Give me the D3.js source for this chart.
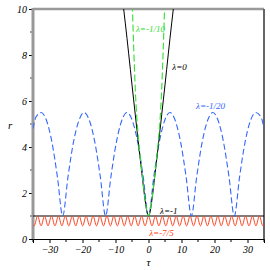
<!DOCTYPE html>
<meta charset='utf-8'>
<body style='margin:0;background:#fff'>
<script src='https://d3js.org/d3.v7.min.js'></script>
<script>
  // tick values
  const xTicks = [-30, -20, -10, 0, 10, 20, 30];
  const xMinor = [-35, -25, -15, -5, 5, 15, 25, 35];
  const yTicks = [0, 2, 4, 6, 8, 10];
  const yMinor = [1, 3, 5, 7, 9];

  // lambda = 0, solid black
  const zeroTau = [-7.6, -7, -6, -5, -4, -3, -2, -1, -0.5, 0, 0.5, 1, 2, 3, 4, 5, 6, 7, 7.6];
  const zeroR   = [10.1, 9.35, 8.05, 6.7, 5.4, 4.1, 2.85, 1.66, 1.2, 1, 1.2, 1.66, 2.85, 4.1, 5.4, 6.7, 8.05, 9.35, 10.1];

  // lambda = -1/10, green dashed
  const tenthTau = [-4.9, -4.6, -4.3, -4, -3.5, -3, -2, -1, 0, 1, 2, 3, 3.5, 4, 4.3, 4.6, 4.9];
  const tenthR   = [10.2, 8.8, 7.6, 6.5, 5.2, 4.3, 2.9, 1.7, 1, 1.7, 2.9, 4.3, 5.2, 6.5, 7.6, 8.8, 10.2];

  // lambda = -1/20, blue dashed
  const twentiethTau = [-35, -34.1, -32.5, -30.9, -29.25, -27.6, -26,
    -24.4, -22.75, -21.1, -19.5, -17.9, -16.25, -14.6, -13,
    -11.4, -9.75, -8.1, -6.5, -4.9, -3.25, -1.6, 0,
    1.6, 3.25, 4.9, 6.5, 8.1, 9.75, 11.4, 13,
    14.6, 16.25, 17.9, 19.5, 21.1, 22.75, 24.4, 26,
    27.6, 29.25, 30.9, 32.5, 34.1, 35];
  const twentiethR = [4.8, 5.3, 5.5, 5.15, 4.2, 2.7, 1,
    2.7, 4.2, 5.15, 5.5, 5.15, 4.2, 2.7, 1,
    2.7, 4.2, 5.15, 5.5, 5.15, 4.2, 2.7, 1,
    2.7, 4.2, 5.15, 5.5, 5.15, 4.2, 2.7, 1,
    2.7, 4.2, 5.15, 5.5, 5.15, 4.2, 2.7, 1,
    2.7, 4.2, 5.15, 5.5, 5.3, 4.8];

  // lambda = -1, flat at r = 1
  const oneTau = [-35, 35];
  const oneR   = [1, 1];

  // lambda = -7/5, red oscillation under r = 1 (peaks and troughs)
  const sevenTau = [-35, -34.65, -33.6, -32.55, -31.5, -30.45, -29.4, -28.35, -27.3, -26.25, -25.2,
    -24.15, -23.1, -22.05, -21, -19.95, -18.9, -17.85, -16.8, -15.75, -14.7, -13.65, -12.6,
    -11.55, -10.5, -9.45, -8.4, -7.35, -6.3, -5.25, -4.2, -3.15, -2.1, -1.05, 0,
    1.05, 2.1, 3.15, 4.2, 5.25, 6.3, 7.35, 8.4, 9.45, 10.5, 11.55, 12.6, 13.65, 14.7,
    15.75, 16.8, 17.85, 18.9, 19.95, 21, 22.05, 23.1, 24.15, 25.2, 26.25, 27.3, 28.35,
    29.4, 30.45, 31.5, 32.55, 33.6, 34.65, 35];
  const sevenR = [0.6, 0.57, 1, 0.57, 1, 0.57, 1, 0.57, 1, 0.57, 1,
    0.57, 1, 0.57, 1, 0.57, 1, 0.57, 1, 0.57, 1, 0.57, 1,
    0.57, 1, 0.57, 1, 0.57, 1, 0.57, 1, 0.57, 1, 0.57, 1,
    0.57, 1, 0.57, 1, 0.57, 1, 0.57, 1, 0.57, 1, 0.57, 1, 0.57, 1,
    0.57, 1, 0.57, 1, 0.57, 1, 0.57, 1, 0.57, 1, 0.57, 1, 0.57,
    1, 0.57, 1, 0.57, 1, 0.57, 0.6];

  const margin = { top: 9, right: 6, bottom: 31, left: 33 };
  const width = 270 - margin.left - margin.right;
  const height = 270 - margin.top - margin.bottom;

  const x = d3.scaleLinear().domain([-35, 35]).range([0, width]);
  const y = d3.scaleLinear().domain([0, 10]).range([height, 0]);

  const svg = d3.select('body').append('svg')
    .attr('width', 270)
    .attr('height', 270)
    .style('display', 'block')
    .append('g')
      .attr('transform', `translate(${margin.left}, ${margin.top})`);

  svg.append('defs').append('clipPath')
    .attr('id', 'clip')
    .append('rect')
      .attr('width', width)
      .attr('height', height);

  const font = '"Liberation Serif", "DejaVu Serif", serif';

  // bottom axis
  const xAxis = svg.append('g')
    .attr('transform', `translate(0, ${height})`)
    .attr('font-family', font)
    .call(d3.axisBottom(x).tickValues(xTicks).tickSize(4).tickFormat(d3.format('d')));
  xAxis.append('g').selectAll('line')
    .data(xMinor)
    .join('line')
      .attr('x1', d => x(d)).attr('x2', d => x(d))
      .attr('y1', 0).attr('y2', 3)
      .attr('stroke', '#000');
  xAxis.selectAll('text')
    .attr('y', 6)
    .attr('dy', '0.75em')
    .style('font', `italic 10px ${font}`)
    .attr('fill', '#000');

  // left axis
  const yAxis = svg.append('g')
    .attr('font-family', font)
    .call(d3.axisLeft(y).tickValues(yTicks).tickSize(4).tickFormat(d3.format('d')));
  yAxis.append('g').selectAll('line')
    .data(yMinor)
    .join('line')
      .attr('x1', -3).attr('x2', 0)
      .attr('y1', d => y(d)).attr('y2', d => y(d))
      .attr('stroke', '#444');
  yAxis.selectAll('text')
    .attr('x', -6)
    .style('font', `italic 10px ${font}`)
    .attr('fill', '#000');
  yAxis.select('.domain').remove();

  // frame
  svg.append('line')
    .attr('x1', 0).attr('x2', width).attr('y1', 0).attr('y2', 0)
    .attr('stroke', '#999').attr('stroke-width', 2.5);
  svg.append('line')
    .attr('x1', width).attr('x2', width).attr('y1', 0).attr('y2', height)
    .attr('stroke', '#666').attr('stroke-width', 2);
  svg.append('line')
    .attr('x1', 0).attr('x2', 0).attr('y1', -1).attr('y2', height)
    .attr('stroke', '#999').attr('stroke-width', 3);

  const zip = (ts, rs) => ts.map((t, i) => ({ t: t, r: rs[i] }));
  const plot = svg.append('g').attr('clip-path', 'url(#clip)');

  const series = [
    { data: zip(oneTau, oneR), color: '#000', dash: null, width: 1.1, curve: d3.curveLinear },
    { data: zip(sevenTau, sevenR), color: '#ff4422', dash: null, width: 1, curve: d3.curveMonotoneX },
    { data: zip(twentiethTau, twentiethR), color: '#3366ff', dash: '6,3', width: 1.1, curve: d3.curveMonotoneX },
    { data: zip(zeroTau, zeroR), color: '#000', dash: null, width: 1, curve: d3.curveMonotoneX },
    { data: zip(tenthTau, tenthR), color: '#33dd33', dash: '7,3', width: 1.1, curve: d3.curveMonotoneX }
  ];

  series.forEach(s => {
    plot.append('path')
      .datum(s.data)
      .attr('fill', 'none')
      .attr('stroke', s.color)
      .attr('stroke-width', s.width)
      .attr('stroke-dasharray', s.dash)
      .attr('d', d3.line().x(d => x(d.t)).y(d => y(d.r)).curve(s.curve));
  });

  // curve labels
  const labels = [
    { text: 'λ=-1/10', t: -3.8, r: 9.0, color: '#33dd33' },
    { text: 'λ=0', t: 7.2, r: 7.35, color: '#000' },
    { text: 'λ=-1/20', t: 14.4, r: 5.65, color: '#3366ff' },
    { text: 'λ=-1', t: 3.5, r: 1.1, color: '#000' },
    { text: 'λ=-7/5', t: 0.2, r: 0.12, color: '#ff4422' }
  ];
  svg.append('g').selectAll('text')
    .data(labels)
    .join('text')
      .attr('x', d => x(d.t))
      .attr('y', d => y(d.r))
      .attr('fill', d => d.color)
      .style('font', `italic 9px ${font}`)
      .text(d => d.text);

  // axis titles
  svg.append('text')
    .attr('x', x(0))
    .attr('y', height + 27)
    .attr('text-anchor', 'middle')
    .style('font', `italic 11px ${font}`)
    .text('τ');
  svg.append('text')
    .attr('x', -25)
    .attr('y', y(4.8))
    .style('font', `italic 11px ${font}`)
    .text('r');
</script>
